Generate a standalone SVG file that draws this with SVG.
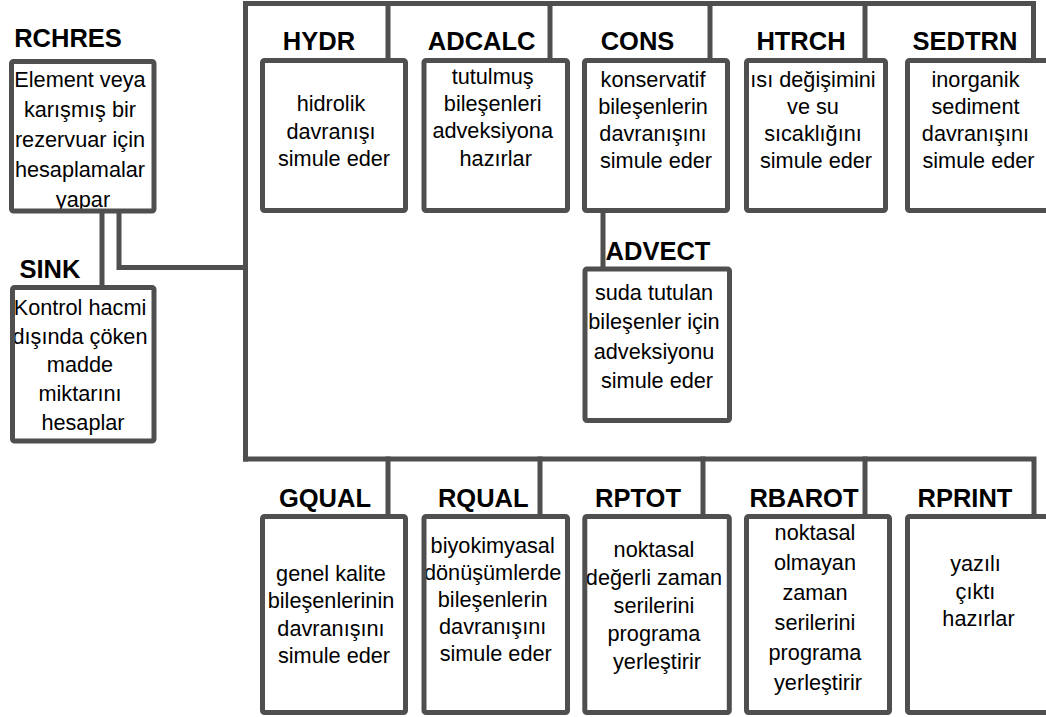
<svg xmlns="http://www.w3.org/2000/svg" width="1046" height="717" viewBox="0 0 1046 717">
  <style>
    .bg { fill: #ffffff; stroke: none; }
    .edge { fill: none; stroke: #4f4f4f; stroke-width: 5; }
    .wire { fill: none; stroke: #4f4f4f; stroke-width: 5; stroke-linejoin: miter; stroke-linecap: square; }
    .title { font-family: "Liberation Sans", Arial, sans-serif; font-weight: bold; font-size: 25.5px; text-anchor: middle; fill: #000; }
    .body { font-family: "Liberation Sans", Arial, sans-serif; font-size: 21.7px; text-anchor: middle; fill: #000; }
  </style>
  <rect width="1046" height="717" fill="#ffffff"/>

  <!-- connectors: RCHRES feeds SINK and the module bus -->
  <g id="connectors">
    <path class="wire" d="M102,211 V287"/>
    <path class="wire" d="M119,211 V267.5 H245.5"/>
    <!-- main trunk and upper bus -->
    <path class="wire" d="M245.5,459 V3.5 H1033.5 V61"/>
    <path class="wire" d="M388,3.5 V61"/>
    <path class="wire" d="M550,3.5 V61"/>
    <path class="wire" d="M710,3.5 V61"/>
    <path class="wire" d="M865,3.5 V61"/>
    <!-- CONS to ADVECT -->
    <path class="wire" d="M603,211 V269"/>
    <!-- lower bus -->
    <path class="wire" d="M245.5,459 H1034 V516"/>
    <path class="wire" d="M388,459 V516"/>
    <path class="wire" d="M540,459 V516"/>
    <path class="wire" d="M703,459 V516"/>
    <path class="wire" d="M865,459 V516"/>
  </g>

  <!-- each module: white panel, caption, description, then the frame drawn over the text -->
  <g id="RCHRES">
    <text class="title" x="68" y="47">RCHRES</text>
    <rect class="bg" x="11.5" y="61.5" width="142.5" height="149.5"/>
    <text class="body">
      <tspan x="83" y="87">Element veya</tspan>
      <tspan x="83" y="117">karışmış bir</tspan>
      <tspan x="83" y="146.5">rezervuar için</tspan>
      <tspan x="83" y="176.5">hesaplamalar</tspan>
      <tspan x="83" y="206.5">yapar</tspan>
    </text>
    <rect class="edge" x="11.5" y="61.5" width="142.5" height="149.5" rx="2"/>
  </g>

  <g id="SINK">
    <text class="title" x="50" y="278">SINK</text>
    <rect class="bg" x="12.5" y="287.5" width="141.5" height="153.5"/>
    <text class="body">
      <tspan x="83" y="315">Kontrol hacmi</tspan>
      <tspan x="83" y="343.5">dışında çöken</tspan>
      <tspan x="83" y="372">madde</tspan>
      <tspan x="83" y="401">miktarını</tspan>
      <tspan x="83" y="430">hesaplar</tspan>
    </text>
    <rect class="edge" x="12.5" y="287.5" width="141.5" height="153.5" rx="2"/>
  </g>

  <g id="HYDR">
    <text class="title" x="319" y="50">HYDR</text>
    <rect class="bg" x="262.5" y="60.5" width="143" height="150"/>
    <text class="body">
      <tspan x="334" y="111">hidrolik</tspan>
      <tspan x="334" y="139">davranışı</tspan>
      <tspan x="334" y="166">simule eder</tspan>
    </text>
    <rect class="edge" x="262.5" y="60.5" width="143" height="150" rx="2"/>
  </g>

  <g id="ADCALC">
    <text class="title" x="481.7" y="50">ADCALC</text>
    <rect class="bg" x="424" y="60.5" width="143.5" height="150"/>
    <text class="body">
      <tspan x="495.7" y="84">tutulmuş</tspan>
      <tspan x="495.7" y="111">bileşenleri</tspan>
      <tspan x="495.7" y="138">adveksiyona</tspan>
      <tspan x="495.7" y="166">hazırlar</tspan>
    </text>
    <rect class="edge" x="424" y="60.5" width="143.5" height="150" rx="2"/>
  </g>

  <g id="CONS">
    <text class="title" x="637.5" y="50">CONS</text>
    <rect class="bg" x="584.5" y="60.5" width="143" height="150"/>
    <text class="body">
      <tspan x="656" y="87">konservatif</tspan>
      <tspan x="656" y="114">bileşenlerin</tspan>
      <tspan x="656" y="141">davranışını</tspan>
      <tspan x="656" y="168">simule eder</tspan>
    </text>
    <rect class="edge" x="584.5" y="60.5" width="143" height="150" rx="2"/>
  </g>

  <g id="HTRCH">
    <text class="title" x="801" y="50">HTRCH</text>
    <rect class="bg" x="746.5" y="60.5" width="139" height="150"/>
    <text class="body">
      <tspan x="816" y="87">ısı değişimini</tspan>
      <tspan x="816" y="114">ve su</tspan>
      <tspan x="816" y="141">sıcaklığını</tspan>
      <tspan x="816" y="168">simule eder</tspan>
    </text>
    <rect class="edge" x="746.5" y="60.5" width="139" height="150" rx="2"/>
  </g>

  <g id="SEDTRN">
    <text class="title" x="965" y="50">SEDTRN</text>
    <rect class="bg" x="907.5" y="60.5" width="142" height="150"/>
    <text class="body">
      <tspan x="978.5" y="87">inorganik</tspan>
      <tspan x="978.5" y="114">sediment</tspan>
      <tspan x="978.5" y="141">davranışını</tspan>
      <tspan x="978.5" y="168">simule eder</tspan>
    </text>
    <rect class="edge" x="907.5" y="60.5" width="142" height="150" rx="2"/>
  </g>

  <g id="ADVECT">
    <text class="title" x="658" y="260">ADVECT</text>
    <rect class="bg" x="585" y="269" width="144.5" height="151.5"/>
    <text class="body">
      <tspan x="657" y="300">suda tutulan</tspan>
      <tspan x="657" y="329">bileşenler için</tspan>
      <tspan x="657" y="358.5">adveksiyonu</tspan>
      <tspan x="657" y="388">simule eder</tspan>
    </text>
    <rect class="edge" x="585" y="269" width="144.5" height="151.5" rx="2"/>
  </g>

  <g id="GQUAL">
    <text class="title" x="325" y="507">GQUAL</text>
    <rect class="bg" x="262.5" y="516.5" width="143" height="196"/>
    <text class="body">
      <tspan x="334" y="581">genel kalite</tspan>
      <tspan x="334" y="608">bileşenlerinin</tspan>
      <tspan x="334" y="636">davranışını</tspan>
      <tspan x="334" y="663">simule eder</tspan>
    </text>
    <rect class="edge" x="262.5" y="516.5" width="143" height="196" rx="2"/>
  </g>

  <g id="RQUAL">
    <text class="title" x="483.3" y="507">RQUAL</text>
    <rect class="bg" x="424" y="516.5" width="143.5" height="196"/>
    <text class="body">
      <tspan x="495.7" y="553">biyokimyasal</tspan>
      <tspan x="495.7" y="580">dönüşümlerde</tspan>
      <tspan x="495.7" y="607">bileşenlerin</tspan>
      <tspan x="495.7" y="634">davranışını</tspan>
      <tspan x="495.7" y="661">simule eder</tspan>
    </text>
    <rect class="edge" x="424" y="516.5" width="143.5" height="196" rx="2"/>
  </g>

  <g id="RPTOT">
    <text class="title" x="638" y="507">RPTOT</text>
    <rect class="bg" x="584.8" y="516.5" width="144.5" height="196"/>
    <text class="body">
      <tspan x="657" y="557">noktasal</tspan>
      <tspan x="657" y="585">değerli zaman</tspan>
      <tspan x="657" y="613">serilerini</tspan>
      <tspan x="657" y="641">programa</tspan>
      <tspan x="657" y="669">yerleştirir</tspan>
    </text>
    <rect class="edge" x="584.8" y="516.5" width="144.5" height="196" rx="2"/>
  </g>

  <g id="RBAROT">
    <text class="title" x="804" y="507">RBAROT</text>
    <rect class="bg" x="746.5" y="516.5" width="143" height="196"/>
    <text class="body">
      <tspan x="818" y="540">noktasal</tspan>
      <tspan x="818" y="570">olmayan</tspan>
      <tspan x="818" y="600">zaman</tspan>
      <tspan x="818" y="630">serilerini</tspan>
      <tspan x="818" y="660">programa</tspan>
      <tspan x="818" y="690">yerleştirir</tspan>
    </text>
    <rect class="edge" x="746.5" y="516.5" width="143" height="196" rx="2"/>
  </g>

  <g id="RPRINT">
    <text class="title" x="965" y="507">RPRINT</text>
    <rect class="bg" x="907.5" y="516.5" width="142" height="196"/>
    <text class="body">
      <tspan x="978.5" y="571">yazılı</tspan>
      <tspan x="978.5" y="598.5">çıktı</tspan>
      <tspan x="978.5" y="626">hazırlar</tspan>
    </text>
    <rect class="edge" x="907.5" y="516.5" width="142" height="196" rx="2"/>
  </g>
</svg>
